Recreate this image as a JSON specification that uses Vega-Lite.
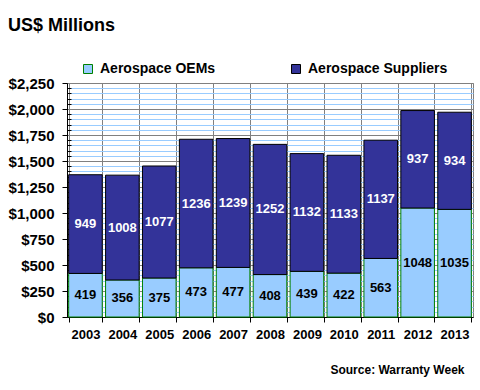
{
  "$schema": "https://vega.github.io/schema/vega-lite/v6.json",
  "width": 406,
  "height": 234,
  "autosize": {"type": "none"},
  "padding": {"left": 67, "top": 83, "right": 7, "bottom": 73},
  "background": "white",
  "config": {"font": "Liberation Sans", "view": {"stroke": "#808080", "strokeWidth": 1}},
  "title": {"text": "US$ Millions", "anchor": "start", "frame": "group", "dx": -59, "fontSize": 18, "fontWeight": "bold", "color": "black", "offset": 27},
  "data": {"values": [
    {"year": "2003", "series": "Aerospace OEMs", "value": 419},
    {"year": "2004", "series": "Aerospace OEMs", "value": 356},
    {"year": "2005", "series": "Aerospace OEMs", "value": 375},
    {"year": "2006", "series": "Aerospace OEMs", "value": 473},
    {"year": "2007", "series": "Aerospace OEMs", "value": 477},
    {"year": "2008", "series": "Aerospace OEMs", "value": 408},
    {"year": "2009", "series": "Aerospace OEMs", "value": 439},
    {"year": "2010", "series": "Aerospace OEMs", "value": 422},
    {"year": "2011", "series": "Aerospace OEMs", "value": 563},
    {"year": "2012", "series": "Aerospace OEMs", "value": 1048},
    {"year": "2013", "series": "Aerospace OEMs", "value": 1035},
    {"year": "2003", "series": "Aerospace Suppliers", "value": 949},
    {"year": "2004", "series": "Aerospace Suppliers", "value": 1008},
    {"year": "2005", "series": "Aerospace Suppliers", "value": 1077},
    {"year": "2006", "series": "Aerospace Suppliers", "value": 1236},
    {"year": "2007", "series": "Aerospace Suppliers", "value": 1239},
    {"year": "2008", "series": "Aerospace Suppliers", "value": 1252},
    {"year": "2009", "series": "Aerospace Suppliers", "value": 1132},
    {"year": "2010", "series": "Aerospace Suppliers", "value": 1133},
    {"year": "2011", "series": "Aerospace Suppliers", "value": 1137},
    {"year": "2012", "series": "Aerospace Suppliers", "value": 937},
    {"year": "2013", "series": "Aerospace Suppliers", "value": 934}
  ]},
  "transform": [
    {"stack": "value", "groupby": ["year"], "sort": [{"field": "series", "order": "ascending"}], "as": ["v0", "v1"]},
    {"calculate": "(datum.v0 + datum.v1) / 2", "as": "mid"}
  ],
  "encoding": {
    "x": {
      "field": "year", "type": "ordinal",
      "scale": {"paddingInner": 0.09, "paddingOuter": 0.045},
      "axis": {
        "labelAngle": 0, "labelFontSize": 13, "labelFontWeight": "bold", "labelColor": "black", "labelPadding": 6,
        "tickBand": "extent", "grid": true, "gridColor": "#808080", "tickColor": "black", "tickSize": 5,
        "domainColor": "black",
        "title": "Source: Warranty Week", "titleFontSize": 12, "titleFontWeight": "bold", "titleColor": "black",
        "titleAnchor": "end", "titleX": 397, "titleY": 56, "titleAlign": "right", "titleBaseline": "alphabetic"
      }
    }
  },
  "layer": [
    {
      "mark": {"type": "bar", "strokeWidth": 1},
      "encoding": {
        "y": {
          "field": "v0", "type": "quantitative",
          "scale": {"domain": [0, 2250], "nice": false},
          "axis": {
            "title": null,
            "values": [0,50,100,150,200,250,300,350,400,450,500,550,600,650,700,750,800,850,900,950,1000,1050,1100,1150,1200,1250,1300,1350,1400,1450,1500,1550,1600,1650,1700,1750,1800,1850,1900,1950,2000,2050,2100,2150,2200,2250],
            "labelExpr": "datum.value % 250 === 0 ? '$' + format(datum.value, ',') : ''",
            "labelFontSize": 15, "labelFontWeight": "bold", "labelColor": "black", "labelPadding": 8,
            "tickColor": "black",
            "tickSize": {"condition": {"test": "datum.value % 250 === 0", "value": 5}, "value": -4},
            "grid": true,
            "gridColor": {"condition": {"test": "datum.value % 250 === 0", "value": "#808080"}, "value": "#99ccff"},
            "domainColor": "black"
          }
        },
        "y2": {"field": "v1"},
        "fill": {
          "field": "series", "type": "nominal",
          "scale": {"domain": ["Aerospace OEMs", "Aerospace Suppliers"], "range": ["#99ccff", "#333399"]},
          "legend": {
            "title": null, "orient": "none", "legendX": 14, "legendY": -21, "direction": "horizontal",
            "symbolType": "square", "symbolSize": 81, "symbolStrokeWidth": 1,
            "labelFontSize": 14, "labelFontWeight": "bold", "labelColor": "black", "labelOffset": 5,
            "columnPadding": 73, "padding": 0
          }
        },
        "stroke": {
          "field": "series", "type": "nominal",
          "scale": {"domain": ["Aerospace OEMs", "Aerospace Suppliers"], "range": ["#008000", "#000000"]}
        }
      }
    },
    {
      "mark": {"type": "text", "fontSize": 13, "fontWeight": "bold"},
      "encoding": {
        "y": {
          "field": "mid", "type": "quantitative",
          "axis": {
            "title": null,
            "values": [0,50,100,150,200,250,300,350,400,450,500,550,600,650,700,750,800,850,900,950,1000,1050,1100,1150,1200,1250,1300,1350,1400,1450,1500,1550,1600,1650,1700,1750,1800,1850,1900,1950,2000,2050,2100,2150,2200,2250],
            "labelExpr": "datum.value % 250 === 0 ? '$' + format(datum.value, ',') : ''",
            "labelFontSize": 15, "labelFontWeight": "bold", "labelColor": "black", "labelPadding": 8,
            "tickColor": "black",
            "tickSize": {"condition": {"test": "datum.value % 250 === 0", "value": 5}, "value": -4},
            "grid": true,
            "gridColor": {"condition": {"test": "datum.value % 250 === 0", "value": "#808080"}, "value": "#99ccff"},
            "domainColor": "black"
          }
        },
        "text": {"field": "value", "type": "quantitative"},
        "color": {"condition": {"test": "datum.series === 'Aerospace OEMs'", "value": "black"}, "value": "white"}
      }
    }
  ]
}
